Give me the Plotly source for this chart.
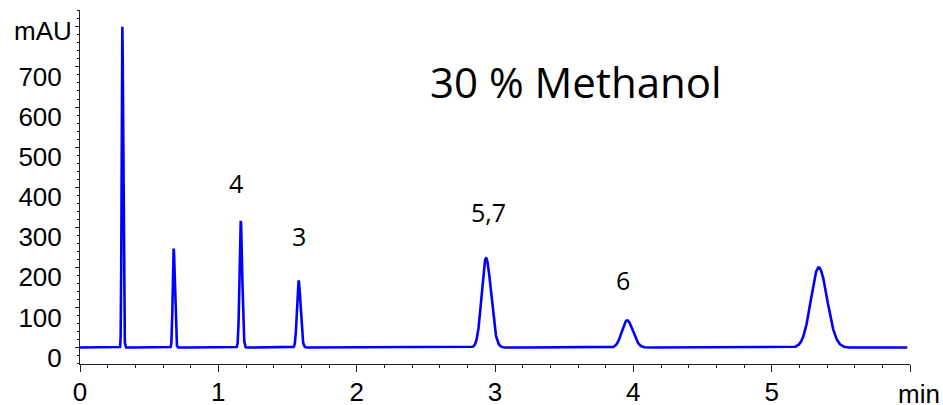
import numpy as np
import plotly.graph_objects as go

# ---- data ----
peak_times = [0.306, 0.677, 1.162, 1.580, 2.935, 3.955, 5.340]      # min
peak_heights = [800, 247, 316, 167, 223, 68, 200]                    # mAU
peak_sigma_left = [0.0048, 0.0068, 0.0088, 0.0115, 0.031, 0.037, 0.056]
peak_sigma_right = [0.0065, 0.0085, 0.0105, 0.0145, 0.036, 0.042, 0.061]
peak_labels = ["", "", "4", "3", "5,7", "6", ""]
run_start, run_end = 0.0, 5.98
x_ticks = [0, 1, 2, 3, 4, 5, 6]
x_ticktext = ["0", "1", "2", "3", "4", "5", ""]
y_ticks = [0, 100, 200, 300, 400, 500, 600, 700]
y_ticktext = ["0", "100", "200", "300", "400", "500", "600", "700"]
title_text = "30 % Methanol"

# ---- build the signal from the peak table ----
t = np.arange(run_start, run_end + 1e-9, 0.001)
signal = np.zeros_like(t)
for rt, h, sl, sr in zip(peak_times, peak_heights, peak_sigma_left, peak_sigma_right):
    s = np.where(t < rt, sl, sr)
    signal += h * np.exp(-0.5 * ((t - rt) / s) ** 2)

fig = go.Figure()
fig.add_trace(go.Scatter(x=t, y=signal, mode="lines",
                         line=dict(color="#0000FF", width=2.6),
                         hoverinfo="skip", showlegend=False))

tick_font = dict(family="Liberation Sans, Arial, sans-serif", size=26, color="#000")
label_font = dict(family="Open Sans, sans-serif", size=25, color="#000")

fig.update_layout(
    width=943, height=405,
    margin=dict(l=80, r=33, t=10, b=41),
    paper_bgcolor="white", plot_bgcolor="white",
    xaxis=dict(range=[0, 6.0], showgrid=False, zeroline=False, automargin=False,
               showline=True, linecolor="#222", linewidth=1,
               tickmode="array", tickvals=x_ticks, ticktext=x_ticktext,
               ticks="outside", ticklen=7, tickcolor="#222", tickwidth=1,
               tickfont=tick_font, ticklabelstandoff=-2,
               minor=dict(dtick=0.2, ticks="outside", ticklen=3,
                          tickcolor="#222", tickwidth=1, showgrid=False)),
    yaxis=dict(range=[-41, 842], showgrid=False, zeroline=False, automargin=False,
               showline=True, linecolor="#222", linewidth=1,
               tickmode="array", tickvals=y_ticks + [800], ticktext=y_ticktext + [""],
               ticks="outside", ticklen=4, tickcolor="#222", tickwidth=1,
               tickfont=tick_font, ticklabelshift=10, ticklabelstandoff=8,
               minor=dict(dtick=20, tick0=0, ticks="outside", ticklen=2,
                          tickcolor="#222", tickwidth=1, showgrid=False)),
)

annotations = []
# axis unit labels
annotations.append(dict(text="mAU", xref="paper", yref="y", x=0, y=800,
                        xanchor="right", yanchor="middle", xshift=-6, yshift=-4,
                        showarrow=False, font=tick_font))
annotations.append(dict(text="min", xref="paper", yref="paper", x=1.0, y=0,
                        xanchor="left", yanchor="top", xshift=-14, yshift=-13,
                        showarrow=False, font=tick_font))
# title
annotations.append(dict(text=title_text, xref="paper", yref="paper", x=0.597, y=0.797,
                        xanchor="center", yanchor="middle", showarrow=False,
                        font=dict(family="Open Sans, sans-serif", size=42, color="#000")))
# peak labels
label_dx = {"4": -5, "3": 0, "5,7": 2, "6": -4}
label_dy = {"4": 38, "3": 45, "5,7": 46, "6": 40}
for rt, h, lab in zip(peak_times, peak_heights, peak_labels):
    if lab:
        annotations.append(dict(text=lab, x=rt, y=h, xref="x", yref="y",
                                xanchor="center", yanchor="middle",
                                xshift=label_dx[lab], yshift=label_dy[lab],
                                showarrow=False, font=label_font))
fig.update_layout(annotations=annotations)

fig.write_html("out.html")
